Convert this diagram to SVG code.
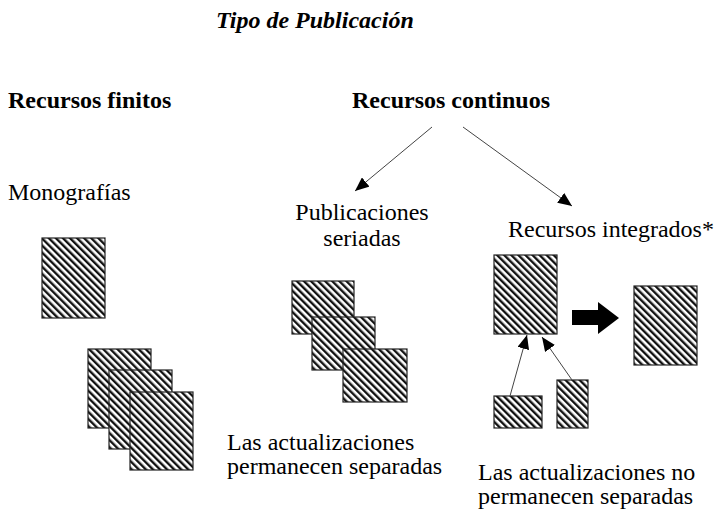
<svg xmlns="http://www.w3.org/2000/svg" width="718" height="513" viewBox="0 0 718 513">
<style>
  text { font-family: 'Liberation Serif', 'Times New Roman', 'DejaVu Serif', serif; font-size: 24px; fill: #000; }
  .b { font-weight: bold; }
  .bi { font-weight: bold; font-style: italic; }
  .box { fill: url(#hatch); stroke: #222; stroke-width: 1.2; }
  .thin { stroke: #444; stroke-width: 1; fill: none; marker-end: url(#ah); }
</style>
<defs>
  <pattern id="hatch" patternUnits="userSpaceOnUse" width="5" height="5" patternTransform="rotate(-45)">
    <rect width="5" height="5" fill="#fff"/>
    <rect width="2.4" height="5" fill="#111"/>
  </pattern>
  <marker id="ah" markerUnits="userSpaceOnUse" markerWidth="14" markerHeight="12" refX="14" refY="6" orient="auto">
    <path d="M0,0 L14,6 L0,12 Z" fill="#000"/>
  </marker>
</defs>
<rect width="718" height="513" fill="#fff"/>

<g id="title"><text class="bi" font-family="Liberation Serif, serif" x="216" y="28">Tipo de Publicación</text></g>
<g id="finitos"><text class="b" font-family="Liberation Serif, serif" x="8" y="108">Recursos finitos</text></g>
<g id="continuos"><text class="b" font-family="Liberation Serif, serif" x="352" y="108">Recursos continuos</text></g>

<g id="monografias">
  <text font-family="Liberation Serif, serif" x="8" y="200">Monografías</text>
  <rect class="box" x="42" y="238" width="63" height="80"/>
  <rect class="box" x="88" y="349" width="63" height="79"/>
  <rect class="box" x="109" y="370" width="63" height="79"/>
  <rect class="box" x="130" y="392" width="63" height="78"/>
</g>

<g id="seriadas">
  <text font-family="Liberation Serif, serif" x="362" y="220" text-anchor="middle">Publicaciones</text>
  <text font-family="Liberation Serif, serif" x="362" y="246" text-anchor="middle">seriadas</text>
  <rect class="box" x="292" y="281" width="62" height="53"/>
  <rect class="box" x="312" y="317" width="63" height="53"/>
  <rect class="box" x="343" y="349" width="64" height="53"/>
  <text font-family="Liberation Serif, serif" x="227" y="450">Las actualizaciones</text>
  <text font-family="Liberation Serif, serif" x="227" y="474">permanecen separadas</text>
</g>

<g id="integrados">
  <text font-family="Liberation Serif, serif" x="508" y="237">Recursos integrados*</text>
  <rect class="box" x="494" y="255" width="63" height="79"/>
  <rect class="box" x="494" y="396" width="48" height="32"/>
  <rect class="box" x="557" y="380" width="31" height="48"/>
  <rect class="box" x="634" y="286" width="63" height="79"/>
  <polygon points="572,310 598,310 598,302 619,318 598,334 598,325 572,325" fill="#000"/>
  <text font-family="Liberation Serif, serif" x="478" y="480">Las actualizaciones no</text>
  <text font-family="Liberation Serif, serif" x="478" y="504">permanecen separadas</text>
</g>

<g id="connectors">
  <line class="thin" x1="432" y1="127" x2="355" y2="191"/>
  <line class="thin" x1="463" y1="127" x2="572" y2="206"/>
  <line class="thin" x1="510" y1="396" x2="527" y2="335"/>
  <line class="thin" x1="572" y1="380" x2="542" y2="337"/>
</g>
</svg>
